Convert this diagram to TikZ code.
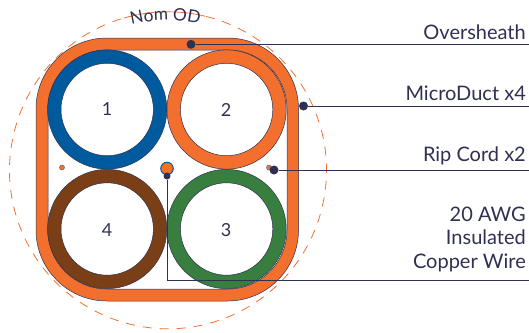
\documentclass[tikz,border=0pt]{standalone}
\usepackage{fontspec}
\setmainfont{Lato}
\usetikzlibrary{decorations.text}
\definecolor{inkc}{HTML}{2E3152}
\definecolor{orangec}{HTML}{F36F2E}
\definecolor{bluec}{HTML}{005A9E}
\definecolor{brownc}{HTML}{7A3F16}
\definecolor{greenc}{HTML}{387F3F}
\tikzset{x=1pt,y=-1pt,
  num/.style={text=inkc,font=\fontsize{18}{20}\selectfont,inner sep=0pt},
  lab/.style={text=inkc,font=\fontsize{20}{23.5}\selectfont,inner sep=0pt,anchor=base east,align=right},
  dotm/.style={circle,fill=inkc,inner sep=0pt,minimum size=#1},
  leader/.style={draw=inkc,line width=0.9pt},
}
\newcommand{\ductring}[3]{%
  \fill[#3,even odd rule] (#1,#2) circle[radius=59.6] (#1,#2) circle[radius=46.2];
  \draw[inkc,line width=0.5pt] (#1,#2) circle[radius=59.6] (#1,#2) circle[radius=46.2];
}
\begin{document}
\begin{tikzpicture}
\useasboundingbox (0,0) rectangle (529,332);
% dashed circle, open at the label
\draw[orangec,line width=0.8pt,dash pattern=on 9pt off 8pt] (168,170.3) ++(-76.5:158.5) arc[start angle=-76.5,end angle=-360-106,radius=158.5];
% sheath
\fill[orangec,even odd rule,rounded corners=71pt] (36,38) rectangle (298.5,301) [rounded corners=59pt] (48,50) rectangle (287,289);
\draw[inkc,line width=0.5pt,rounded corners=71pt] (36,38) rectangle (298.5,301);
\draw[inkc,line width=0.5pt,rounded corners=59pt] (48,50) rectangle (287,289);
% ducts
\ductring{107.2}{109.5}{bluec}
\ductring{226.6}{109.5}{orangec}
\ductring{226.6}{229}{greenc}
\ductring{107.2}{229}{brownc}
\node[num] (n1) at (107,109.5) {1};
\node[num] (n2) at (226,109.5) {2};
\node[num] (n3) at (226,230) {3};
\node[num] (n4) at (107,230.5) {4};
% rip cords and wire
\node[circle,draw=inkc!70,fill=orangec,line width=0.6pt,inner sep=0pt,minimum size=5pt] (ripL) at (62,167.5) {};
\node[circle,draw=inkc!70,fill=orangec,line width=0.6pt,inner sep=0pt,minimum size=5pt] (ripR) at (269,167.5) {};
\node[circle,draw=bluec,fill=orangec,line width=1pt,inner sep=0pt,minimum size=12.5pt] (wire) at (167,168.5) {};
% labels
\node[lab] (tO) at (526,39) {Oversheath};
\node[lab] (tM) at (526,100) {MicroDuct x4};
\node[lab] (tR) at (526,161) {Rip Cord x2};
\node[lab,anchor=south east] (tW) at (526,272) {20 AWG\\Insulated\\Copper Wire};
% leaders
\node[dotm=9pt] (dO) at (191,44.3) {};
\node[dotm=9pt] (dM) at (303.5,106) {};
\node[dotm=9pt] (dR) at (274,170) {};
\node[dotm=7pt] (dW) at (167,176) {};
\coordinate (eO) at (529,44.3);
\coordinate (eM) at (529,106);
\coordinate (eR) at (529,170);
\coordinate (eW) at (529,280);
\draw[leader] (dO) -- (eO);
\draw[leader] (dM) -- (eM);
\draw[leader] (dR) -- (eR);
\draw[leader] (dW) |- (eW);
% curved label
\path[decorate,decoration={text along path,text align=center,text={|\fontsize{17.3}{18}\selectfont\color{inkc}|Nom OD}}]
  (168,170.3) ++(-112:150) arc[start angle=-112,end angle=-70,radius=150];
\end{tikzpicture}
\end{document}
